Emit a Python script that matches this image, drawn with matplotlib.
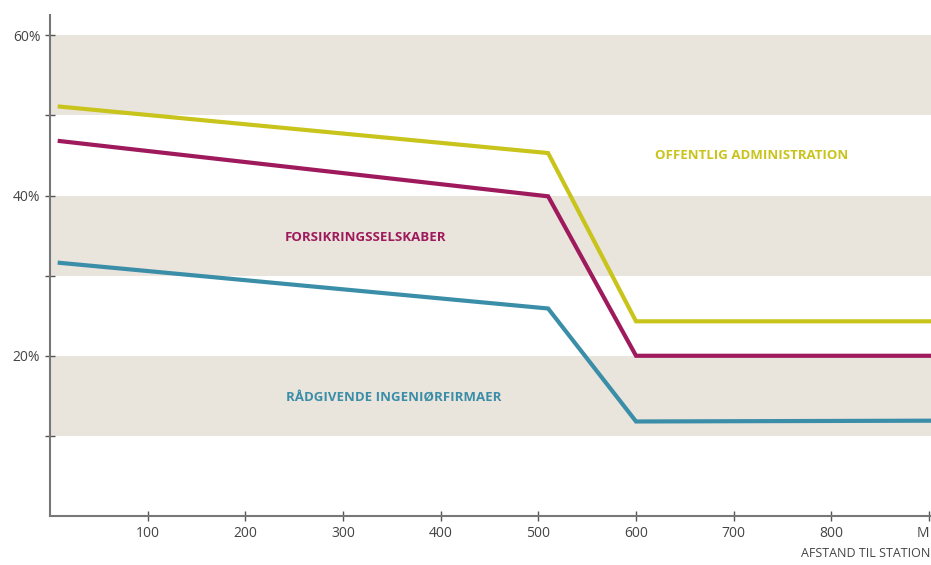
import matplotlib
matplotlib.use("Agg")
import matplotlib.pyplot as plt

plt.rcParams['font.family'] = ['Open Sans', 'DejaVu Sans']

# afstand (m) og andel (%)
dist = [10, 510, 600, 910]
offentlig = [51.1, 45.3, 24.3, 24.3]
forsikring = [46.8, 39.9, 20.0, 20.0]
raadgivende = [31.6, 25.9, 11.8, 11.9]

xticks = [100, 200, 300, 400, 500, 600, 700, 800, 900]
xticklabels = ['100', '200', '300', '400', '500', '600', '700', '800', 'M']
yticks = [10, 20, 30, 40, 50, 60]
yticklabels = ['', '20%', '', '40%', '', '60%']
bands = [(10, 20), (30, 40), (50, 60)]

fig = plt.figure(figsize=(9.31, 5.65), dpi=100)
ax = fig.add_axes([0.0537, 0.0867, 0.9463, 0.8863])

for lo, hi in bands:
    ax.axhspan(lo, hi, color='#e9e4dc', lw=0, zorder=0)

ax.plot(dist, offentlig, color='#c9c41c', lw=3, solid_joinstyle='miter')
ax.plot(dist, forsikring, color='#9e1a5c', lw=3, solid_joinstyle='miter')
ax.plot(dist, raadgivende, color='#3b8ea8', lw=3, solid_joinstyle='miter')

ax.text(718, 45, 'OFFENTLIG ADMINISTRATION', color='#c9c41c', fontsize=9.5,
        fontweight='bold', ha='center', va='center')
ax.text(323, 34.8, 'FORSIKRINGSSELSKABER', color='#9e1a5c', fontsize=9.5,
        fontweight='bold', ha='center', va='center')
ax.text(352, 14.8, 'RÅDGIVENDE INGENIØRFIRMAER', color='#3b8ea8', fontsize=9.5,
        fontweight='bold', ha='center', va='center')

ax.set_xlim(0, 902)
ax.set_ylim(0, 62.5)
ax.set_xticks(xticks)
ax.set_xticklabels(xticklabels)
ax.get_xticklabels()[-1].set_horizontalalignment('right')
ax.set_yticks(yticks)
ax.set_yticklabels(yticklabels)
ax.tick_params(direction='inout', length=7, width=1, colors='#555555',
               labelsize=10, labelcolor='#444444')

for s in ['top', 'right']:
    ax.spines[s].set_visible(False)
for s in ['left', 'bottom']:
    ax.spines[s].set_color('#777777')
    ax.spines[s].set_linewidth(1.5)

fig.text(0.999, 0.008, 'AFSTAND TIL STATION', ha='right', va='bottom',
         fontsize=9, color='#444444')

fig.savefig('out.png', dpi=100)
